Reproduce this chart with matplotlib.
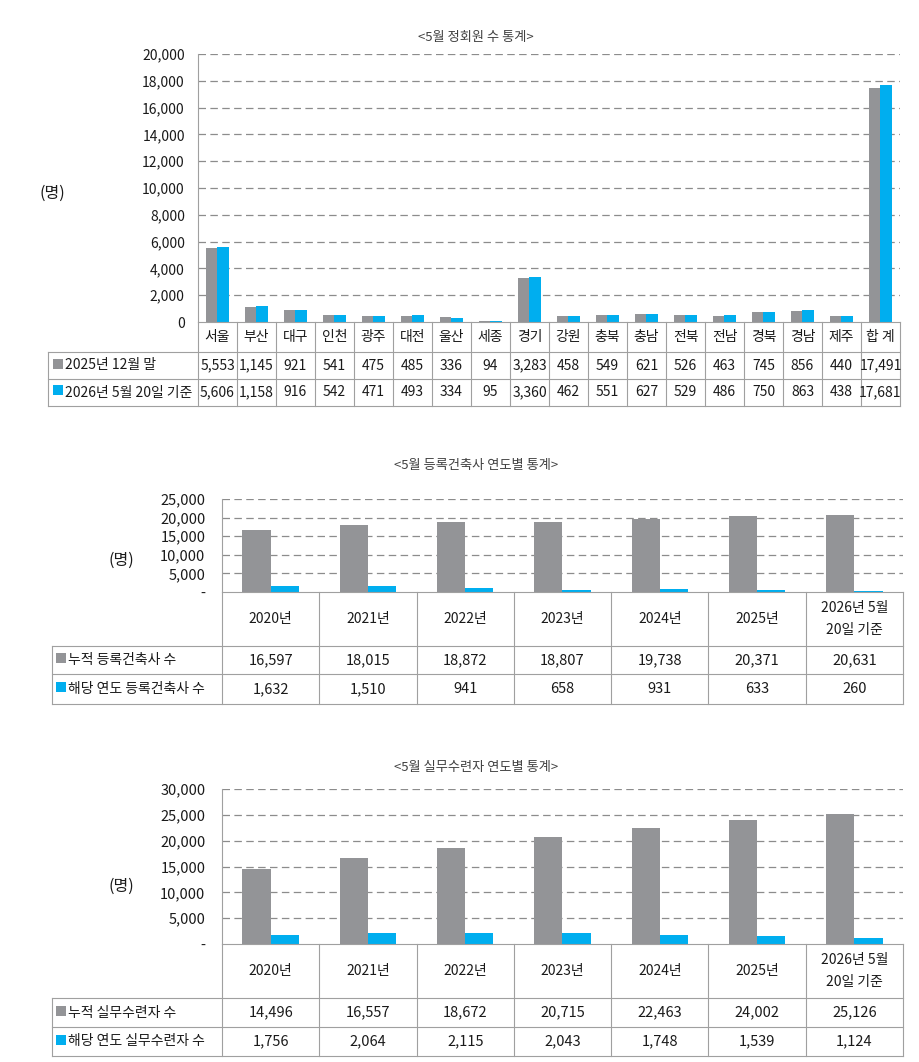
import matplotlib
matplotlib.use('Agg')
import matplotlib.pyplot as plt
from matplotlib.lines import Line2D
from matplotlib.patches import Rectangle

plt.rcParams['font.family'] = ['Noto Sans CJK KR', 'DejaVu Sans']

# Chart 1: members by region
regions = ['서울', '부산', '대구', '인천', '광주', '대전', '울산', '세종', '경기',
           '강원', '충북', '충남', '전북', '전남', '경북', '경남', '제주', '합 계']
members_2025 = [5553, 1145, 921, 541, 475, 485, 336, 94, 3283,
                458, 549, 621, 526, 463, 745, 856, 440, 17491]
members_2026 = [5606, 1158, 916, 542, 471, 493, 334, 95, 3360,
                462, 551, 627, 529, 486, 750, 863, 438, 17681]
member_labels = ['2025년 12월 말', '2026년 5월 20일 기준']

# Charts 2 and 3: yearly stats
years = ['2020년', '2021년', '2022년', '2023년', '2024년', '2025년', '2026년 5월\n20일 기준']
architects_total = [16597, 18015, 18872, 18807, 19738, 20371, 20631]
architects_new = [1632, 1510, 941, 658, 931, 633, 260]
architect_labels = ['누적 등록건축사 수', '해당 연도 등록건축사 수']
trainees_total = [14496, 16557, 18672, 20715, 22463, 24002, 25126]
trainees_new = [1756, 2064, 2115, 2043, 1748, 1539, 1124]
trainee_labels = ['누적 실무수련자 수', '해당 연도 실무수련자 수']

GRAY = '#939497'
BLUE = '#00AEEF'
LINE = '#a0a0a0'
TXT = '#1a1a1a'

W, H = 920, 1062
fig = plt.figure(figsize=(W / 100, H / 100), dpi=100)


def fx(x):
    return x / W


def fy(y):
    return 1 - y / H


def line(x0, y0, x1, y1):
    fig.add_artist(Line2D([fx(x0), fx(x1)], [fy(y0), fy(y1)],
                          transform=fig.transFigure, color=LINE, lw=0.8))


def draw_chart(title, title_y, cats, s1, s2, labels, left, right, top, bottom,
               ymax, step, zero_dash, rows, table_left, text_x, ylab_x, ylab_y,
               tick_fs, cat_fs, val_fs, lab_fs, pad):
    ax = fig.add_axes([fx(left), fy(bottom), (right - left) / W, (bottom - top) / H])
    n = len(cats)
    w = 0.29
    xs = [i + 0.5 for i in range(n)]
    ax.bar([x - w / 2 for x in xs], s1, w, color=GRAY, zorder=3)
    ax.bar([x + w / 2 for x in xs], s2, w, color=BLUE, zorder=3)
    ax.set_xlim(0, n)
    ax.set_ylim(0, ymax)
    ticks = list(range(0, ymax + 1, step))
    for t in ticks[1:]:
        ax.axhline(t, color='#8c8c8c', lw=0.9, linestyle=(0, (6, 3.5)), zorder=1)
    ax.set_yticks(ticks)
    ax.set_yticklabels([('-' if (t == 0 and zero_dash) else f'{t:,}') for t in ticks],
                       fontsize=tick_fs, color=TXT)
    ax.tick_params(axis='y', length=0, pad=pad)
    ax.set_xticks([])
    for s in ['top', 'right', 'bottom']:
        ax.spines[s].set_visible(False)
    ax.spines['left'].set_color(LINE)
    ax.spines['left'].set_linewidth(0.8)
    ax.patch.set_alpha(0)

    fig.text(fx(476), fy(title_y), title, ha='center', va='center',
             fontsize=9.5, color='#404040')
    fig.text(fx(ylab_x), fy(ylab_y), '(명)', ha='center', va='center',
             fontsize=11.5, color=TXT)

    # table under the axis
    r0, r1, r2, r3 = rows
    colw = (right - left) / n
    line(left, r0, right, r0)
    line(table_left, r1, right, r1)
    line(table_left, r2, right, r2)
    line(table_left, r3, right, r3)
    line(table_left, r1, table_left, r3)
    for i in range(n + 1):
        x = left + i * colw
        line(x, r0, x, r3)
    for i, c in enumerate(cats):
        cx = left + (i + 0.5) * colw
        fig.text(fx(cx), fy((r0 + r1) / 2), c, ha='center', va='center',
                 fontsize=cat_fs, color=TXT, linespacing=1.7)
        fig.text(fx(cx), fy((r1 + r2) / 2), f'{s1[i]:,}', ha='center', va='center',
                 fontsize=val_fs, color=TXT)
        fig.text(fx(cx), fy((r2 + r3) / 2), f'{s2[i]:,}', ha='center', va='center',
                 fontsize=val_fs, color=TXT)
    for (ya, yb), lab, col in zip([(r1, r2), (r2, r3)], labels, [GRAY, BLUE]):
        yc = (ya + yb) / 2
        sq = 10
        fig.add_artist(Rectangle((fx(text_x - sq - 2), fy(yc - 2 + sq / 2)), sq / W, sq / H,
                                 transform=fig.transFigure, color=col, lw=0))
        fig.text(fx(text_x), fy(yc), lab, ha='left', va='center',
                 fontsize=lab_fs, color=TXT)
    return ax


draw_chart('<5월 정회원 수 통계>', 38, regions, members_2025, members_2026, member_labels,
           198, 900, 54, 322, 20000, 2000, False, (322, 352, 379, 406), 48, 65,
           52, 193, 10, 10, 10, 10, 9.5)

draw_chart('<5월 등록건축사 연도별 통계>', 465, years, architects_total, architects_new,
           architect_labels, 222, 903, 499, 592, 25000, 5000, True,
           (592, 646, 674, 704), 52, 68, 121, 560, 10.5, 10, 10.5, 10, 12)

draw_chart('<5월 실무수련자 연도별 통계>', 768, years, trainees_total, trainees_new,
           trainee_labels, 222, 903, 789, 944, 30000, 5000, True,
           (944, 998, 1027, 1056), 52, 68, 121, 886, 10.5, 10, 10.5, 10, 12)

fig.savefig('out.png', dpi=100, facecolor='white')
